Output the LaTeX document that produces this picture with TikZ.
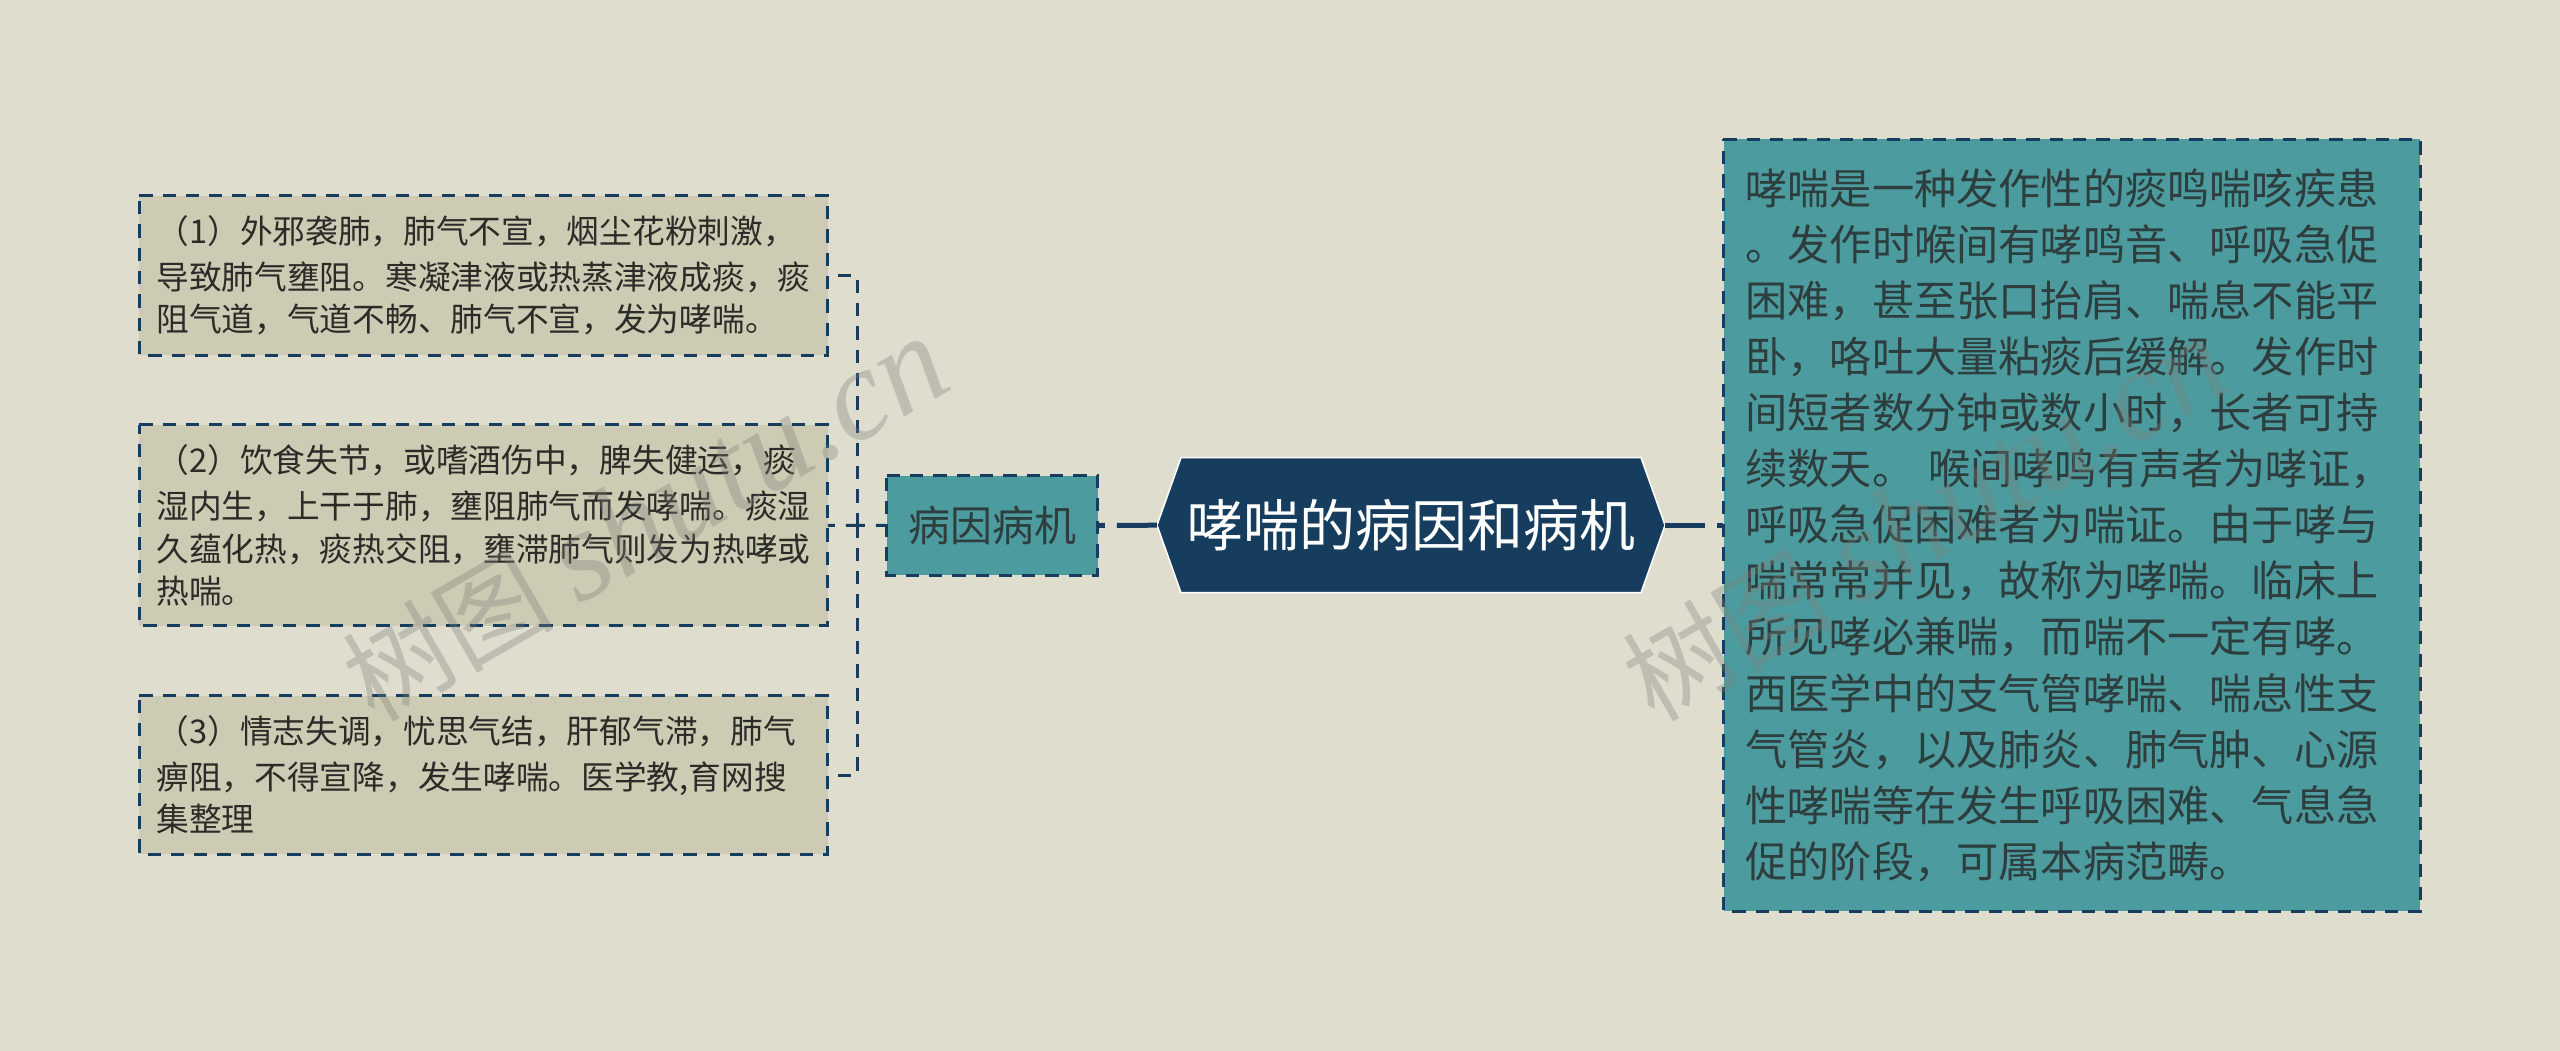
\documentclass[tikz,border=0pt]{standalone}
\usepackage{fontspec}
\setmainfont{Noto Sans CJK SC}
\newfontfamily\wmlatin{Liberation Serif}
\definecolor{pagebg}{HTML}{DEDDCE}
\definecolor{sandfill}{HTML}{CDCBB3}
\definecolor{tealfill}{HTML}{4C9C9F}
\definecolor{navy}{HTML}{163D5D}
\definecolor{inktext}{HTML}{2B2B28}
\definecolor{tealtext}{HTML}{2E3D3D}
\definecolor{wmgrey}{HTML}{7E7E79}
\tikzset{
  boxline/.style={draw=navy,line width=3pt,dash pattern=on 13.3pt off 10pt},
  sandbox/.style={fill=sandfill,inner sep=0pt,inner xsep=17pt,text width=654.3pt,minimum width=688.3pt,align=left,
    text=inktext,font=\fontsize{32.7pt}{42.2pt}\selectfont,execute at begin node={\vspace*{4pt}}},
  notebox/.style={fill=tealfill,inner sep=0pt,inner xsep=21.8pt,text width=652.8pt,minimum width=696.4pt,minimum height=771.7pt,align=left,
    text=tealtext,font=\fontsize{42.2pt}{56.1pt}\selectfont},
  tagbox/.style={fill=tealfill,inner sep=0pt,minimum width=210.6pt,minimum height=99pt,align=center,
    text=tealtext,font=\fontsize{42pt}{50pt}\selectfont},
  hexshape/.style={fill=navy,draw=white,line width=1.5pt},
  titlehex/.style={inner sep=0pt,minimum width=508pt,minimum height=135pt,align=center,
    text=white,font=\fontsize{56pt}{64pt}\selectfont},
  trunklink/.style={draw=navy,line width=5pt,dash pattern=on 40pt off 12pt},
  branchlink/.style={draw=navy,line width=3pt,dash pattern=on 13.3pt off 10pt,dash phase=13.3pt},
  midlink/.style={draw=navy,line width=3pt,dash pattern=on 19pt off 11pt,dash phase=8pt},
  wmark/.style={text=wmgrey,opacity=.33,rotate=30,inner sep=0pt},
}
\newcommand{\outlinebox}[1]{\draw[boxline] (#1.north west) -- (#1.north east) -- (#1.south east) -- (#1.south west) -- cycle;}
\begin{document}
\begin{tikzpicture}[x=1pt,y=-1pt]
\useasboundingbox (0,0) rectangle (2560,1051);
\fill[pagebg] (0,0) rectangle (2560,1051);
\node[sandbox,minimum height=159pt] (causeA) at (483.6,275.5) {（1）外邪袭肺，肺气不宣，烟尘花粉刺激，\\导致肺气壅阻。寒凝津液或热蒸津液成痰，痰\\阻气道，气道不畅、肺气不宣，发为哮喘。};
\node[sandbox,minimum height=200.7pt] (causeB) at (483.6,525.3) {（2）饮食失节，或嗜酒伤中，脾失健运，痰\\湿内生，上干于肺，壅阻肺气而发哮喘。痰湿\\久蕴化热，痰热交阻，壅滞肺气则发为热哮或\\热喘。};
\node[sandbox,minimum height=158.3pt] (causeC) at (483.6,775) {（3）情志失调，忧思气结，肝郁气滞，肺气\\痹阻，不得宣降，发生哮喘。医学教,育网搜\\集整理};
\node[tagbox] (tag) at (992.3,525.5) {病因病机};
\filldraw[hexshape] (1157,525.2) -- (1181,457.7) -- (1641,457.7) -- (1665,525.2) -- (1641,592.7) -- (1181,592.7) -- cycle;
\node[titlehex] (title) at (1411,525.2) {哮喘的病因和病机};
\node[notebox] (note) at (2071.8,525.2) {哮喘是一种发作性的痰鸣喘咳疾患\\。发作时喉间有哮鸣音、呼吸急促\\困难，甚至张口抬肩、喘息不能平\\卧，咯吐大量粘痰后缓解。发作时\\间短者数分钟或数小时，长者可持\\续数天。 喉间哮鸣有声者为哮证，\\呼吸急促困难者为喘证。由于哮与\\喘常常并见，故称为哮喘。临床上\\所见哮必兼喘，而喘不一定有哮。\\西医学中的支气管哮喘、喘息性支\\气管炎，以及肺炎、肺气肿、心源\\性哮喘等在发生呼吸困难、气息急\\促的阶段，可属本病范畴。};
\outlinebox{causeA}
\outlinebox{causeB}
\outlinebox{causeC}
\outlinebox{tag}
\outlinebox{note}
\coordinate (junction) at (857,525.3);
\draw[branchlink] (causeA.east) -| (junction);
\draw[branchlink] (causeC.east) -| (junction);
\draw[midlink] (tag.west) -- (causeB.east);
\draw[trunklink] (title.west) -- (tag.east);
\draw[trunklink] (title.east) -- (note.west);
\node[wmark] (wmA) at (645,520) {\fontsize{106pt}{110pt}\selectfont 树图 {\wmlatin\itshape\fontsize{130pt}{135pt}\selectfont shutu.cn}};
\node[wmark] (wmB) at (1925,520) {\fontsize{106pt}{110pt}\selectfont 树图 {\wmlatin\itshape\fontsize{130pt}{135pt}\selectfont shutu.cn}};
\end{tikzpicture}
\end{document}
